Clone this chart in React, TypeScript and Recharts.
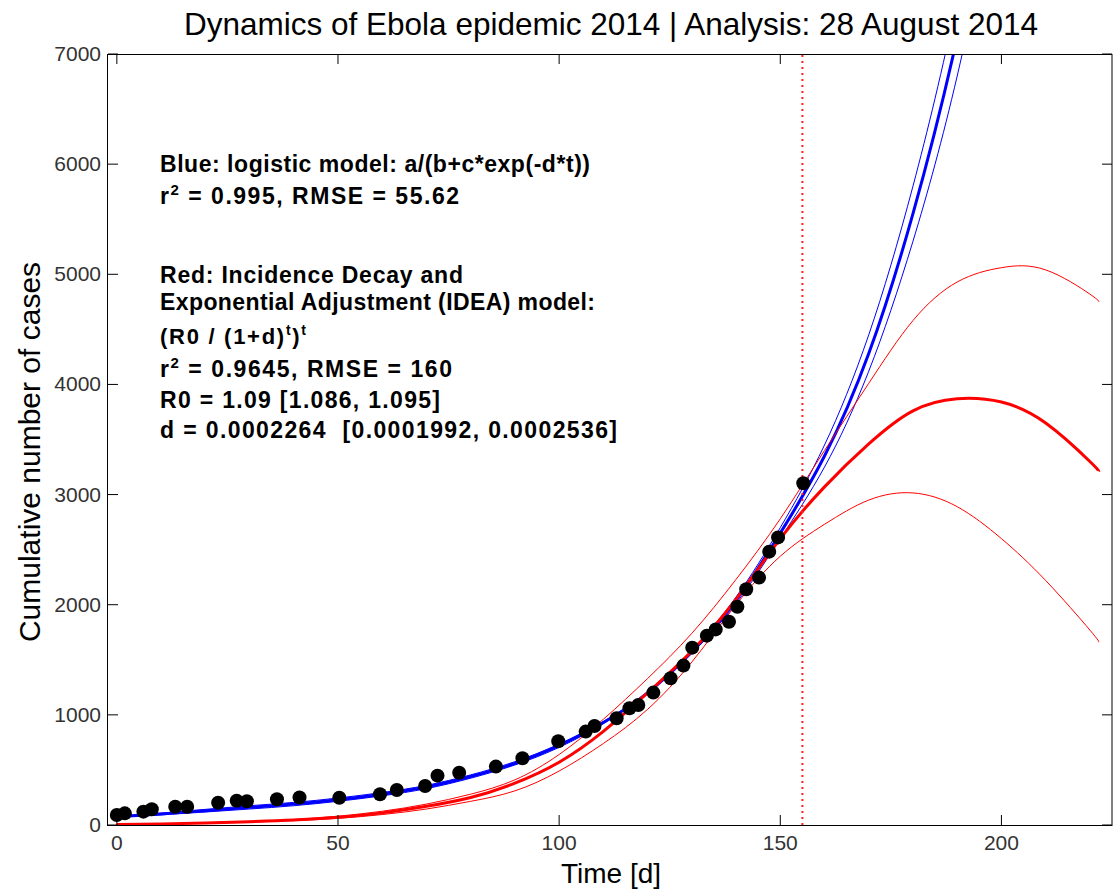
import React from "react"
import {
  ComposedChart,
  Line,
  Scatter,
  XAxis,
  YAxis,
  ReferenceLine,
} from "recharts"

// reported cumulative cases (day, cases)
const dayObs = [
  0, 1.8, 6, 7.9, 13.2, 15.9, 22.9, 27.1, 29.4, 36.2, 41.3, 50.3, 59.5, 63.3, 69.7, 72.5, 77.4, 85.7, 91.7, 99.8,
  106, 108, 113, 115.9, 117.9, 121.3, 125.2, 128.1, 130.1, 133.4, 135.4, 138.4, 140.3, 142.3, 145.2, 147.5, 149.5, 155.2,
]
const casesObs = [
  91, 106, 121, 143, 166, 166, 202, 220, 215, 234, 250, 248, 279, 318, 354, 448, 475, 530, 606, 760,
  848, 899, 969, 1060, 1090, 1202, 1332, 1447, 1610, 1719, 1776, 1846, 1982, 2140, 2246, 2482, 2611, 3103,
]

// logistic fit (blue) + bounds
const blueDays = [0, 10, 20, 30, 40, 50, 60, 70, 80, 90, 100, 110, 120, 130, 140, 150, 160, 170, 180, 190, 200]
const blueFit = [75, 100, 130, 160, 190, 230, 280, 345, 440, 560, 720, 930, 1200, 1570, 2040, 2650, 3350, 4280, 5550, 7150, 9100]
const blueUpper = [70, 92, 118, 145, 175, 215, 265, 330, 425, 545, 705, 920, 1200, 1580, 2070, 2700, 3450, 4450, 5800, 7500, 9600]
const blueLower = [80, 108, 142, 175, 205, 245, 295, 360, 455, 575, 735, 940, 1200, 1560, 2010, 2600, 3250, 4120, 5300, 6800, 8700]

// IDEA fit (red) + bounds
const redDays = [0, 10, 20, 30, 40, 50, 60, 70, 80, 90, 100, 110, 120, 130, 140, 150, 160, 170, 180, 190, 200, 210, 220, 222]
const redFit = [5, 10, 18, 30, 45, 70, 110, 170, 250, 380, 570, 850, 1200, 1580, 2050, 2600, 3070, 3460, 3760, 3870, 3840, 3650, 3300, 3210]
const redUpper = [5, 10, 20, 33, 50, 80, 125, 190, 280, 410, 640, 960, 1330, 1740, 2230, 2780, 3400, 4010, 4580, 4930, 5060, 5040, 4820, 4750]
const redLower = [4, 8, 15, 25, 40, 60, 95, 145, 215, 310, 490, 740, 1050, 1480, 2000, 2440, 2730, 2950, 3015, 2890, 2600, 2220, 1770, 1660]

const xTicks = [0, 50, 100, 150, 200]
const yTicks = [0, 1000, 2000, 3000, 4000, 5000, 6000, 7000]
const analysisDay = 155

const toRows = (days: number[], vals: number[]) => days.map((t, i) => ({ t, v: vals[i] }))

const W = 1114
const H = 890
const PLOT = { left: 108, top: 54, right: 1112, bottom: 825 }
const TICK = 10
const FONT = "'Liberation Sans', Arial, Helvetica, sans-serif"

const XTick = (props: any) => {
  const { x, y, payload } = props
  return (
    <g>
      <line x1={x} y1={y} x2={x} y2={y - TICK} stroke="#000" />
      <line x1={x} y1={PLOT.top} x2={x} y2={PLOT.top + TICK} stroke="#000" />
      <text x={x} y={y + 25} textAnchor="middle" fontSize={21} fill="#333" fontFamily={FONT}>
        {payload.value}
      </text>
    </g>
  )
}

const YTick = (props: any) => {
  const { x, y, payload } = props
  return (
    <g>
      <line x1={x} y1={y} x2={x + TICK} y2={y} stroke="#000" />
      <line x1={PLOT.right} y1={y} x2={PLOT.right - TICK} y2={y} stroke="#000" />
      <text x={x - 7} y={y + 7} textAnchor="end" fontSize={21} fill="#333" fontFamily={FONT}>
        {payload.value}
      </text>
    </g>
  )
}

const Dot = (props: any) => <circle cx={props.cx} cy={props.cy} r={7} fill="#000" />

const ann = { fontSize: 23, fontWeight: 700 as const, fontFamily: FONT, fill: "#000", lengthAdjust: "spacing" }

export default function App() {
  return (
    <div style={{ position: "absolute", left: 0, top: 0, width: W, height: H, background: "#fff" }}>
      <ComposedChart width={W} height={H} margin={{ top: PLOT.top, right: W - PLOT.right, bottom: 0, left: 0 }}>
        <XAxis
          type="number"
          dataKey="t"
          domain={[-2, 225]}
          ticks={xTicks}
          interval={0}
          allowDataOverflow
          height={H - PLOT.bottom}
          tickSize={0}
          tickMargin={0}
          axisLine={false}
          tick={<XTick />}
        />
        <YAxis
          type="number"
          domain={[0, 7000]}
          ticks={yTicks}
          interval={0}
          allowDataOverflow
          width={PLOT.left}
          tickSize={0}
          tickMargin={0}
          axisLine={false}
          tick={<YTick />}
        />
        <Line data={toRows(blueDays, blueUpper)} dataKey="v" type="natural" stroke="#0000ff" strokeWidth={1} dot={false} activeDot={false} isAnimationActive={false} />
        <Line data={toRows(blueDays, blueLower)} dataKey="v" type="natural" stroke="#0000ff" strokeWidth={1} dot={false} activeDot={false} isAnimationActive={false} />
        <Line data={toRows(blueDays, blueFit)} dataKey="v" type="natural" stroke="#0000ff" strokeWidth={3} dot={false} activeDot={false} isAnimationActive={false} />
        <Line data={toRows(redDays, redUpper)} dataKey="v" type="natural" stroke="#ff0000" strokeWidth={1} dot={false} activeDot={false} isAnimationActive={false} />
        <Line data={toRows(redDays, redLower)} dataKey="v" type="natural" stroke="#ff0000" strokeWidth={1} dot={false} activeDot={false} isAnimationActive={false} />
        <Line data={toRows(redDays, redFit)} dataKey="v" type="natural" stroke="#ff0000" strokeWidth={3} dot={false} activeDot={false} isAnimationActive={false} />
        <Scatter data={toRows(dayObs, casesObs)} dataKey="v" fill="#000" shape={Dot} isAnimationActive={false} />
        <ReferenceLine x={analysisDay} stroke="#ff2020" strokeWidth={2} strokeDasharray="2 4" />
      </ComposedChart>

      <svg width={W} height={H} style={{ position: "absolute", left: 0, top: 0, pointerEvents: "none" }}>
        <rect x={PLOT.left - 0.5} y={PLOT.top + 0.5} width={PLOT.right - PLOT.left + 0.5} height={PLOT.bottom - PLOT.top} fill="none" stroke="#000" />
        <text x={611} y={35} textAnchor="middle" fontSize={31.5} fontFamily={FONT} fill="#000">
          Dynamics of Ebola epidemic 2014 | Analysis: 28 August 2014
        </text>
        <text x={611} y={883} textAnchor="middle" fontSize={28} fontFamily={FONT} fill="#000">
          Time [d]
        </text>
        <text x={0} y={0} transform="translate(40,452) rotate(-90)" textAnchor="middle" fontSize={30} fontFamily={FONT} fill="#000">
          Cumulative number of cases
        </text>

        <text x={160} y={172} {...ann} textLength={430}>Blue: logistic model: a/(b+c*exp(-d*t))</text>
        <text x={160} y={204} {...ann} textLength={299}>
          r<tspan dy={-9} fontSize={15}>2</tspan>
          <tspan dy={9}> = 0.995, RMSE = 55.62</tspan>
        </text>
        <text x={160} y={283} {...ann} textLength={303}>Red: Incidence Decay and</text>
        <text x={160} y={310} {...ann} textLength={435}>Exponential Adjustment (IDEA) model:</text>
        <text x={160} y={344} {...ann} fontSize={22} textLength={146}>
          (R0 / (1+d)<tspan dy={-9} fontSize={14}>t</tspan>
          <tspan dy={9}>)</tspan>
          <tspan dy={-9} fontSize={14}>t</tspan>
        </text>
        <text x={160} y={377} {...ann} textLength={292}>
          r<tspan dy={-9} fontSize={15}>2</tspan>
          <tspan dy={9}> = 0.9645, RMSE = 160</tspan>
        </text>
        <text x={160} y={408} {...ann} textLength={280}>R0 = 1.09 [1.086, 1.095]</text>
        <text x={160} y={438} {...ann} textLength={457} style={{ whiteSpace: "pre" }}>d = 0.0002264  [0.0001992, 0.0002536]</text>
      </svg>
    </div>
  )
}
